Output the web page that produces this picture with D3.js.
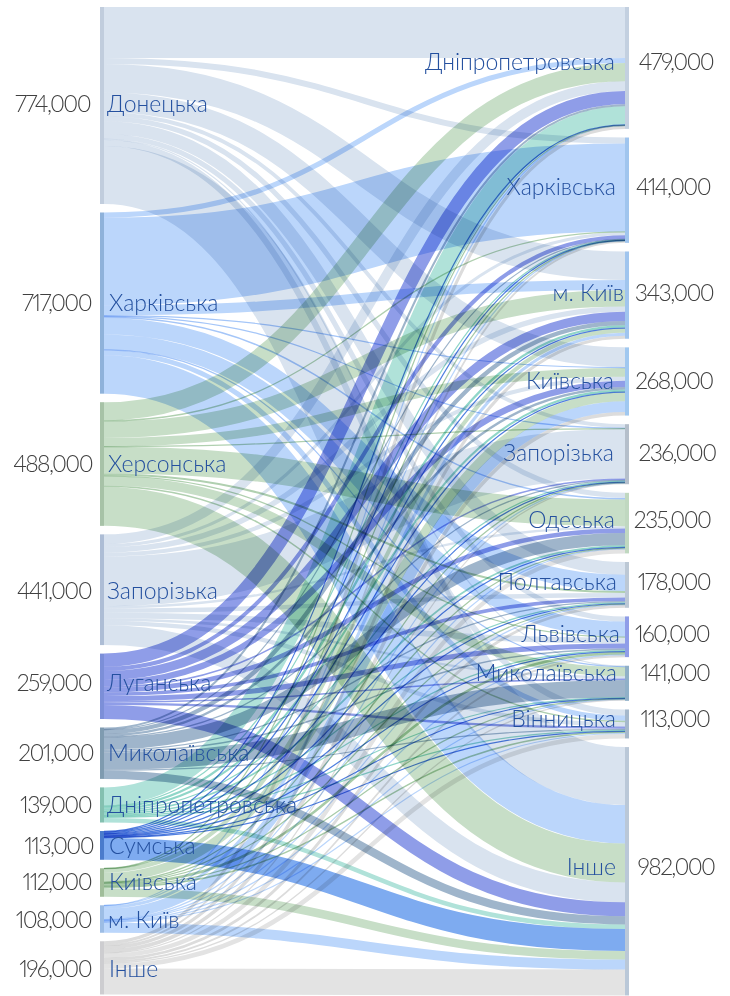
<!DOCTYPE html>
<html>
<head>
<meta charset="utf-8">
<script src="https://cdn.jsdelivr.net/npm/d3@7"></script>
<style>
  html, body { margin: 0; padding: 0; background: #fff; }
  svg { display: block; isolation: isolate; }
  text { font-family: "Lato", "Open Sans", sans-serif; font-weight: 300; }
  .value { font-variant-numeric: proportional-nums; letter-spacing: -1.6px; }
</style>
</head>
<body>
<div id="chart"></div>
<script>
// Data: thousands of people
const sourceNames = ["Донецька", "Харківська", "Херсонська", "Запорізька", "Луганська", "Миколаївська", "Дніпропетровська", "Сумська", "Київська", "м. Київ", "Інше"];
const sourceTotals = ["774,000", "717,000", "488,000", "441,000", "259,000", "201,000", "139,000", "113,000", "112,000", "108,000", "196,000"];
const targetNames = ["Дніпропетровська", "Харківська", "м. Київ", "Київська", "Запорізька", "Одеська", "Полтавська", "Львівська", "Миколаївська", "Вінницька", "Інше"];
const targetTotals = ["479,000", "414,000", "343,000", "268,000", "236,000", "235,000", "178,000", "160,000", "141,000", "113,000", "982,000"];

const fromDonetsk = [200, 24, 112, 78, 15, 20, 50, 20, 3, 24, 228];
const fromKharkiv = [20, 345, 39, 3, 2, 6, 64, 60, 2, 20, 151];
const fromKherson = [72, 3, 65, 34, 1, 105, 8, 3, 36, 6, 153];
const fromZaporizhzhia = [38, 12, 21, 16, 195, 9, 17, 23, 9, 17, 78];
const fromLuhansk = [52, 16, 36, 25, 6, 18, 14, 20, 6, 9, 55];
const fromMykolaiv = [8, 1, 17, 10, 3, 48, 5, 6, 68, 4, 32];
const fromDnipro = [72, 2, 9, 8, 4, 7, 5, 5, 3, 5, 18];
const fromSumy = [3, 2, 4, 3, 3, 3, 2, 3, 2, 2, 86];
const fromKyivObl = [1, 1, 16, 35, 2, 3, 2, 10, 2, 6, 34];
const fromKyivCity = [1, 1, 12, 42, 1, 2, 2, 3, 2, 3, 39];
const fromOther = [12, 7, 12, 14, 4, 17, 11, 7, 5, 18, 102];
const flows = [fromDonetsk, fromKharkiv, fromKherson, fromZaporizhzhia, fromLuhansk, fromMykolaiv, fromDnipro, fromSumy, fromKyivObl, fromKyivCity, fromOther];

// Colours
const ribbonColors = ["#d9e3ef", "#bbd6fb", "#c7dec7", "#d9e3ef", "#8f9de8", "#9fb5cb", "#b0e2d9", "#7eabf0", "#c7dec7", "#bbd6fb", "#e3e3e3"];
// a few thin ribbons read darker in the picture
const thinColors = ["#d9e3ef", "#a5c6f8", "#b0d0b0", "#d9e3ef", "#8f9de8", "#9fb5cb", "#90d6c8", "#4f7fe0", "#a8cba8", "#bbd6fb", "#dcdcdc"];
const sourceBarColors = ["#c1cddd", "#8fb2da", "#a7c2a7", "#adbdd5", "#7c8fd8", "#7f9bb0", "#84c0b0", "#4a7bcc", "#a0bd9a", "#9dbde5", "#cdcdd0"];
const targetBarColors = ["#c3d0e0", "#a0c5ee", "#a0c5ee", "#a0c8f0", "#b5bfcb", "#c0d8c0", "#bcc8d5", "#8f9de8", "#90b0c8", "#a5b8cc", "#bac8d8"];

// Layout
const width = 730, height = 996;
const topY = 7, sourceGap = 8.5, targetGap = 8.6;
const barLeft = 100, barRight = 625, barWidth = 4;
const thinLimit = 4;
const labelColor = "#24509f", valueColor = "#404040";
// hand placed label shifts
const sourceLabelDy = [-1, 0, 0, 1, -3, 0, 0, 1, 0, 1, 1];
const sourceLabelStart = [107, 109, 108, 107, 107, 108, 107, 109, 109, 108, 109];
const sourceValueEnd = [90, 91, 92, 91, 91, 93, 91, 93, 91, 91, 91];
const targetLabelDy = [-6, -3, -2, 0, -1, -3, -3, -3, -10, -5, -4];
const targetLabelEnd = [615, 616, 624, 614, 614, 615, 617, 620, 617, 616, 616];
const targetValueX = [676, 673, 674, 674, 677, 672, 674, 672, 675, 675, 676];

const thickness = d3.scaleLinear().domain([0, 1000]).range([0, 254.5]);

const sourceSums = flows.map(row => d3.sum(row));
const targetSums = targetNames.map((_, j) => d3.sum(flows, row => row[j]));

function stackNodes(sums, gap) {
    let y = topY;
    return sums.map(v => {
        const node = { y0: y, y1: y + thickness(v) };
        y = node.y1 + gap;
        return node;
    });
}
const sourceNodes = stackNodes(sourceSums, sourceGap);
const targetNodes = stackNodes(targetSums, targetGap);

// Ribbons: sources stack in target order, targets stack in source order
const links = [];
const targetCursor = targetNodes.map(n => n.y0);
flows.forEach((row, i) => {
    let sy = sourceNodes[i].y0;
    row.forEach((v, j) => {
        const w = thickness(v);
        links.push({ source: i, y0: sy + w / 2, y1: targetCursor[j] + w / 2, width: w, value: v });
        sy += w;
        targetCursor[j] += w;
    });
});

const svg = d3.select("#chart").append("svg")
    .attr("width", width)
    .attr("height", height);

const ribbon = d3.linkHorizontal()
    .source(d => [barLeft + barWidth, d.y0])
    .target(d => [barRight, d.y1]);

svg.append("g")
    .attr("fill", "none")
    .selectAll("path")
    .data(links)
    .join("path")
    .attr("d", ribbon)
    .attr("stroke", d => d.width < thinLimit ? thinColors[d.source] : ribbonColors[d.source])
    .attr("stroke-width", d => Math.max(d.width, 1.2))
    .style("mix-blend-mode", "multiply");

// Node bars
svg.append("g").selectAll("rect")
    .data(sourceNodes)
    .join("rect")
    .attr("x", barLeft)
    .attr("y", d => d.y0)
    .attr("width", barWidth)
    .attr("height", d => d.y1 - d.y0)
    .attr("fill", (d, i) => sourceBarColors[i]);

svg.append("g").selectAll("rect")
    .data(targetNodes)
    .join("rect")
    .attr("x", barRight)
    .attr("y", d => d.y0)
    .attr("width", barWidth)
    .attr("height", d => d.y1 - d.y0)
    .attr("fill", (d, i) => targetBarColors[i]);

// Labels
const mid = d => (d.y0 + d.y1) / 2;

svg.append("g").selectAll("text")
    .data(sourceNodes)
    .join("text")
    .attr("x", (d, i) => sourceLabelStart[i])
    .attr("y", (d, i) => mid(d) + sourceLabelDy[i])
    .attr("dy", "0.34em")
    .attr("font-size", 23)
    .attr("fill", labelColor)
    .text((d, i) => sourceNames[i]);

svg.append("g").selectAll("text")
    .data(sourceNodes)
    .join("text")
    .attr("class", "value")
    .attr("x", (d, i) => sourceValueEnd[i])
    .attr("y", (d, i) => mid(d) + sourceLabelDy[i])
    .attr("dy", "0.34em")
    .attr("text-anchor", "end")
    .attr("font-size", 23)
    .attr("fill", valueColor)
    .text((d, i) => sourceTotals[i]);

svg.append("g").selectAll("text")
    .data(targetNodes)
    .join("text")
    .attr("x", (d, i) => targetLabelEnd[i])
    .attr("y", (d, i) => mid(d) + targetLabelDy[i])
    .attr("dy", "0.34em")
    .attr("text-anchor", "end")
    .attr("font-size", 23)
    .attr("fill", labelColor)
    .text((d, i) => targetNames[i]);

svg.append("g").selectAll("text")
    .data(targetNodes)
    .join("text")
    .attr("class", "value")
    .attr("x", (d, i) => targetValueX[i])
    .attr("y", (d, i) => mid(d) + targetLabelDy[i])
    .attr("dy", "0.34em")
    .attr("text-anchor", "middle")
    .attr("font-size", 23)
    .attr("fill", valueColor)
    .text((d, i) => targetTotals[i]);
</script>
</body>
</html>
